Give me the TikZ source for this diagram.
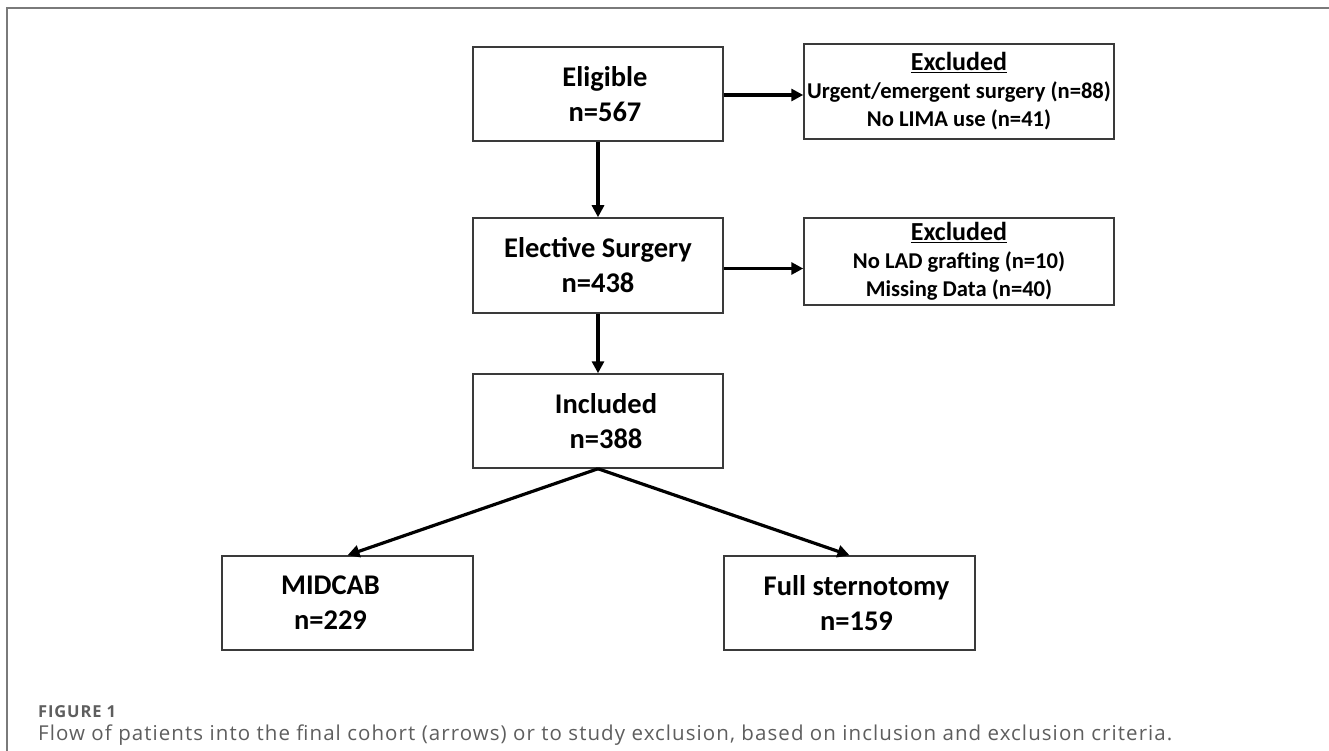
\documentclass[tikz,border=0pt]{standalone}
\usepackage{fontspec}
\setmainfont{Carlito}
\newfontfamily\capfont[LetterSpace=5.2]{Open Sans}
\usetikzlibrary{arrows.meta}
\definecolor{boxline}{HTML}{3A3A3A}
\definecolor{framegray}{HTML}{7A7A7A}
\definecolor{capgray}{HTML}{5E5E5E}
\begin{document}
\begin{tikzpicture}[x=1pt,y=-1pt,
  mainbox/.style={draw=boxline, line width=1.5pt, minimum width=250pt, minimum height=94pt,
    inner sep=0pt, align=center, font=\fontsize{28.5}{35}\selectfont\bfseries},
  exbox/.style={draw=boxline, line width=1.5pt, minimum width=310pt,
    inner sep=0pt, align=center, font=\fontsize{22.6}{28}\selectfont\bfseries},
  flow/.style={line width=3.2pt, -{Triangle[length=12pt,width=12pt]}},
  captxt/.style={anchor=west, inner sep=0pt, text=capgray}]
\useasboundingbox (0,0) rectangle (1329,751);
\draw[framegray, line width=1.5pt] (7,751) -- (7,8) -- (1329,8);

\node[mainbox] (elig) at (598,94) {\hspace*{14pt}Eligible\\\hspace*{14pt}n=567};
\node[mainbox, minimum height=95pt] (elect) at (598,265.5) {Elective Surgery\\n=438};
\node[mainbox] (incl) at (598,421) {\hspace*{16pt}Included\\\hspace*{16pt}n=388};
\node[mainbox, minimum width=251pt] (mid) at (347.5,603) {MIDCAB\hspace*{34pt}\\n=229\hspace*{34pt}};
\node[mainbox, minimum width=251pt] (full) at (849.5,603) {\hspace*{14pt}Full sternotomy\\\hspace*{14pt}n=159};

\node[exbox, minimum height=95pt] (ex1) at (959,91.5)
  {{\fontsize{26}{28}\selectfont\underline{Excluded}}\\Urgent/emergent surgery (n=88)\\No LIMA use (n=41)};
\node[exbox, minimum height=87pt] (ex2) at (959,261.5)
  {{\fontsize{26}{28}\selectfont\underline{Excluded}}\\No LAD grafting (n=10)\\Missing Data (n=40)};

\draw[flow] (elig) -- (elect);
\draw[flow] (elect) -- (incl);
\draw[flow] ([yshift=-1pt]elig.east) -- ([yshift=-1pt]elig.east -| ex1.west);
\draw[flow] ([yshift=-3pt]elect.east) -- ([yshift=-3pt]elect.east -| ex2.west);
\draw[flow] (incl.south) -- (mid.north);
\draw[flow] (incl.south) -- (full.north);

\node[captxt, font=\capfont\fontsize{16.5}{20}\selectfont\bfseries] (figlab) at (38,712) {FIGURE 1};
\node[captxt, font=\capfont\fontsize{20.5}{22}\selectfont] (cap) at (38,735)
  {Flow of patients into the final cohort (arrows) or to study exclusion, based on inclusion and exclusion criteria.};
\end{tikzpicture}
\end{document}
